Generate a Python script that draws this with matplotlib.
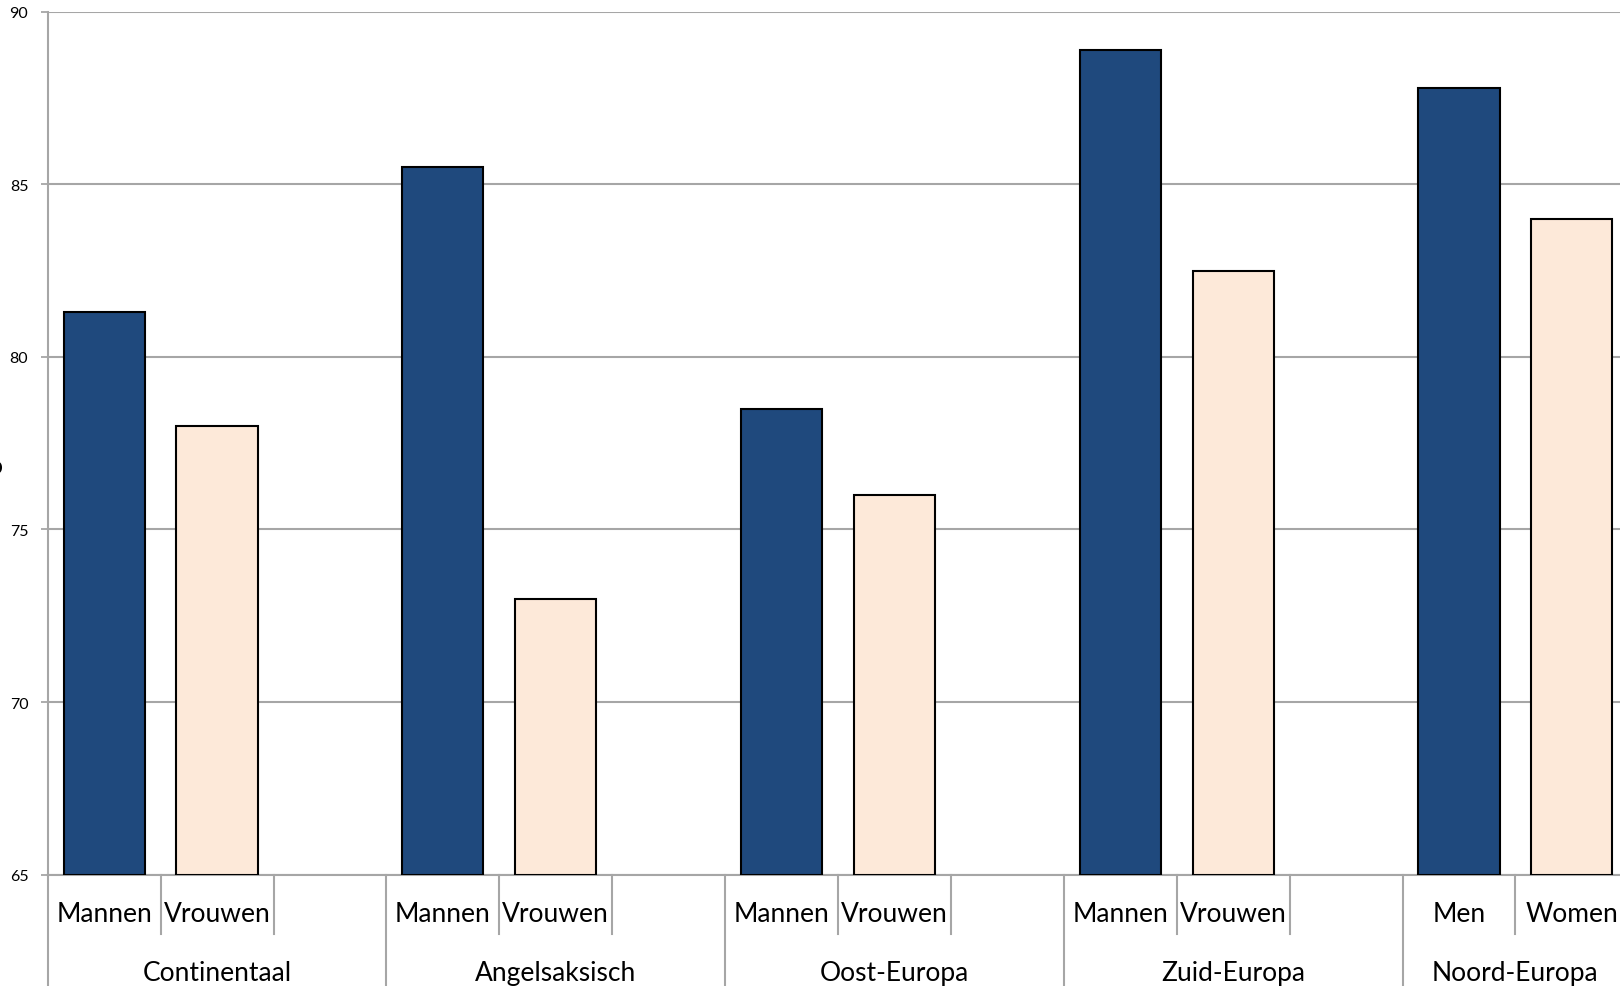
import matplotlib.pyplot as plt
import numpy as np

regions = ["Continentaal", "Angelsaksisch", "Oost-Europa", "Zuid-Europa", "Noord-Europa"]
men_labels = ["Mannen", "Mannen", "Mannen", "Mannen", "Men"]
women_labels = ["Vrouwen", "Vrouwen", "Vrouwen", "Vrouwen", "Women"]
men_values = [81.3, 85.5, 78.5, 88.9, 87.8]
women_values = [78.0, 73.0, 76.0, 82.5, 84.0]
y_ticks = [65, 70, 75, 80, 85, 90]

plt.rcParams['font.family'] = ['Lato', 'DejaVu Sans']

fig = plt.figure(figsize=(16.2, 9.87), dpi=100)
n = len(regions)
# every region takes 3 slots (men, women, empty) except the last one
n_slots = 3 * n - 1
slot_px = 112.9
ax = fig.add_axes([47.7 / 1620, 0.1128, n_slots * slot_px / 1620, 0.8743])

grid_col = "#a6a6a6"
x_men = np.arange(n) * 3 + 0.5
x_women = np.arange(n) * 3 + 1.5

ax.bar(x_men, [v - 65 for v in men_values], bottom=65, width=0.72,
       color="#1f497d", edgecolor="black", linewidth=1.5, zorder=3)
ax.bar(x_women, [v - 65 for v in women_values], bottom=65, width=0.72,
       color="#fde9d9", edgecolor="black", linewidth=1.5, zorder=3)

ax.set_xlim(0, n_slots)
ax.set_ylim(65, 90)
ax.set_yticks(y_ticks)
ax.set_yticklabels([str(t) for t in y_ticks], fontsize=11.5)
ax.yaxis.grid(True, color=grid_col, linewidth=1.5, zorder=0)
ax.tick_params(axis="y", length=5, width=1.3, color=grid_col, pad=9)
ax.set_xticks([])

for s in ["top", "right"]:
    ax.spines[s].set_visible(False)
ax.spines["left"].set_color(grid_col)
ax.spines["left"].set_linewidth(1.5)
ax.spines["bottom"].set_color(grid_col)
ax.spines["bottom"].set_linewidth(1.5)

# two-level category axis drawn below the plot
trans = ax.get_xaxis_transform()
for i in range(n):
    left = 3 * i
    width = 3 if i < n - 1 else 2
    ax.plot([left, left], [0, -0.15], transform=trans, color=grid_col,
            linewidth=1.5, clip_on=False)
    for k in range(1, width):
        ax.plot([left + k, left + k], [0, -0.0687], transform=trans,
                color=grid_col, linewidth=1.5, clip_on=False)
    ax.text(x_men[i], -0.0455, men_labels[i], transform=trans, ha="center",
            va="center", fontsize=19)
    ax.text(x_women[i], -0.0455, women_labels[i], transform=trans, ha="center",
            va="center", fontsize=19)
    ax.text(left + width / 2, -0.1134, regions[i], transform=trans, ha="center",
            va="center", fontsize=19)

# clipped remnant of a label at the far left edge of the screenshot
fig.text(3 / 1620, 1 - 467 / 987, "o", ha="right", va="center", fontsize=18)

fig.savefig("out.png", dpi=100)
